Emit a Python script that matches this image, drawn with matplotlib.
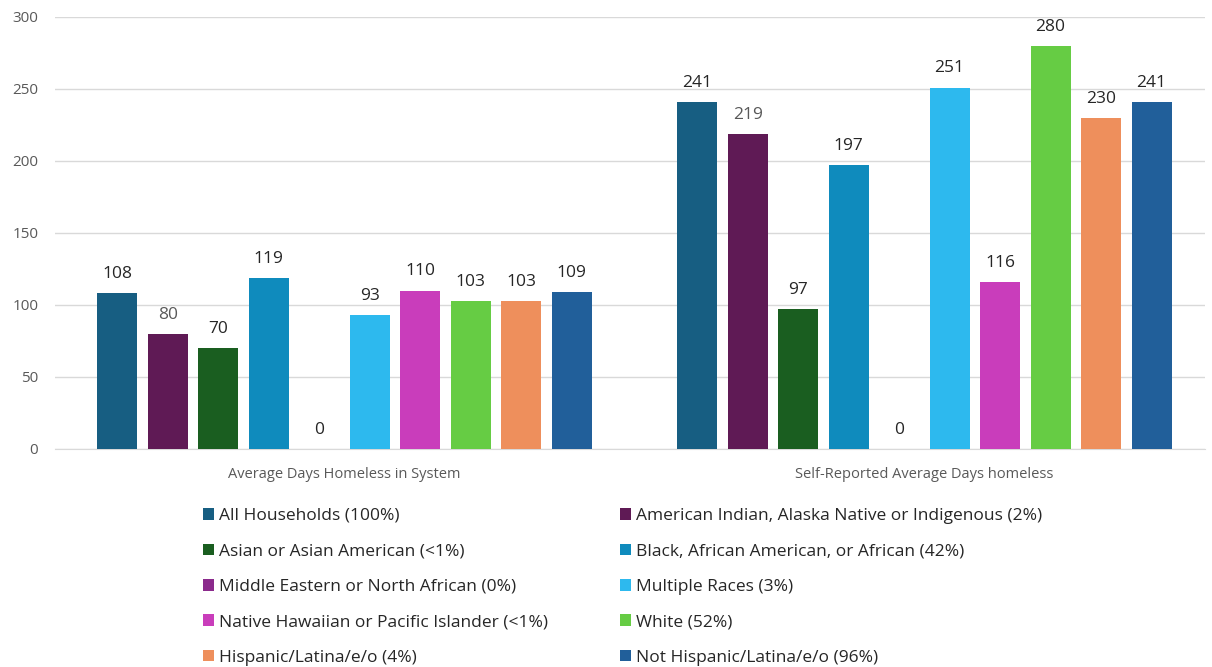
import matplotlib
matplotlib.use("Agg")
import matplotlib.pyplot as plt
import numpy as np
from matplotlib.patches import Patch

plt.rcParams['font.family'] = ['Open Sans', 'DejaVu Sans']

categories = ["Average Days Homeless in System", "Self-Reported Average Days homeless"]
series_names = [
    "All Households (100%)",
    "American Indian, Alaska Native or Indigenous (2%)",
    "Asian or Asian American (<1%)",
    "Black, African American, or African (42%)",
    "Middle Eastern or North African (0%)",
    "Multiple Races (3%)",
    "Native Hawaiian or Pacific Islander (<1%)",
    "White (52%)",
    "Hispanic/Latina/e/o (4%)",
    "Not Hispanic/Latina/e/o (96%)",
]
values = [
    [108, 241],
    [80, 219],
    [70, 97],
    [119, 197],
    [0, 0],
    [93, 251],
    [110, 116],
    [103, 280],
    [103, 230],
    [109, 241],
]
colors = ["#175E82", "#5F1A55", "#1A5E20", "#0F8BBD", "#8B2A8C",
          "#2DB9EE", "#C93DBB", "#66CC44", "#EE8F5C", "#215F9A"]
label_colors = ["#262626", "#595959", "#262626", "#262626", "#262626",
                "#262626", "#262626", "#262626", "#262626", "#262626"]

W, H = 1212, 667
fig = plt.figure(figsize=(W / 100, H / 100), dpi=100)
ax = fig.add_axes([55 / W, 1 - 449 / H, (1205 - 55) / W, (449 - 17) / H])

n = len(series_names)
step = 50.5 / 580
bw = 40 / 580
x = np.arange(len(categories))
for i, (name, vals) in enumerate(zip(series_names, values)):
    pos = x + (i - (n - 1) / 2) * step
    bars = ax.bar(pos, vals, width=bw, color=colors[i], label=name, zorder=3)
    for b, v in zip(bars, vals):
        ax.annotate(f"{v}", (b.get_x() + b.get_width() / 2, v),
                    xytext=(0, 8), textcoords="offset points",
                    ha="center", va="bottom", fontsize=12.5, color=label_colors[i])

ax.set_ylim(0, 300)
ax.set_xlim(-0.499, 1.484)
ax.set_yticks(range(0, 301, 50))
ax.yaxis.grid(True, color="#D9D9D9", linewidth=1, zorder=0)
ax.set_axisbelow(True)
for s in ["top", "right", "left"]:
    ax.spines[s].set_visible(False)
ax.spines["bottom"].set_color("#D9D9D9")
ax.tick_params(axis="y", length=0, labelsize=11, labelcolor="#595959", pad=12)
ax.tick_params(axis="x", length=0, labelsize=10.5, labelcolor="#595959", pad=13)
ax.set_xticks(x)
ax.set_xticklabels(categories)

order = [0, 2, 4, 6, 8, 1, 3, 5, 7, 9]
handles = [Patch(facecolor=colors[i]) for i in order]
labels = [series_names[i] for i in order]
fig.legend(handles, labels, ncol=2, loc="upper left",
           bbox_to_anchor=(203 / W, 1 - 508 / H), frameon=False,
           fontsize=12.5, labelcolor="#262626",
           handlelength=0.65, handleheight=0.65, handletextpad=0.3,
           columnspacing=4.1, labelspacing=1.12, borderaxespad=0, borderpad=0)

fig.savefig("out.png", dpi=100)
